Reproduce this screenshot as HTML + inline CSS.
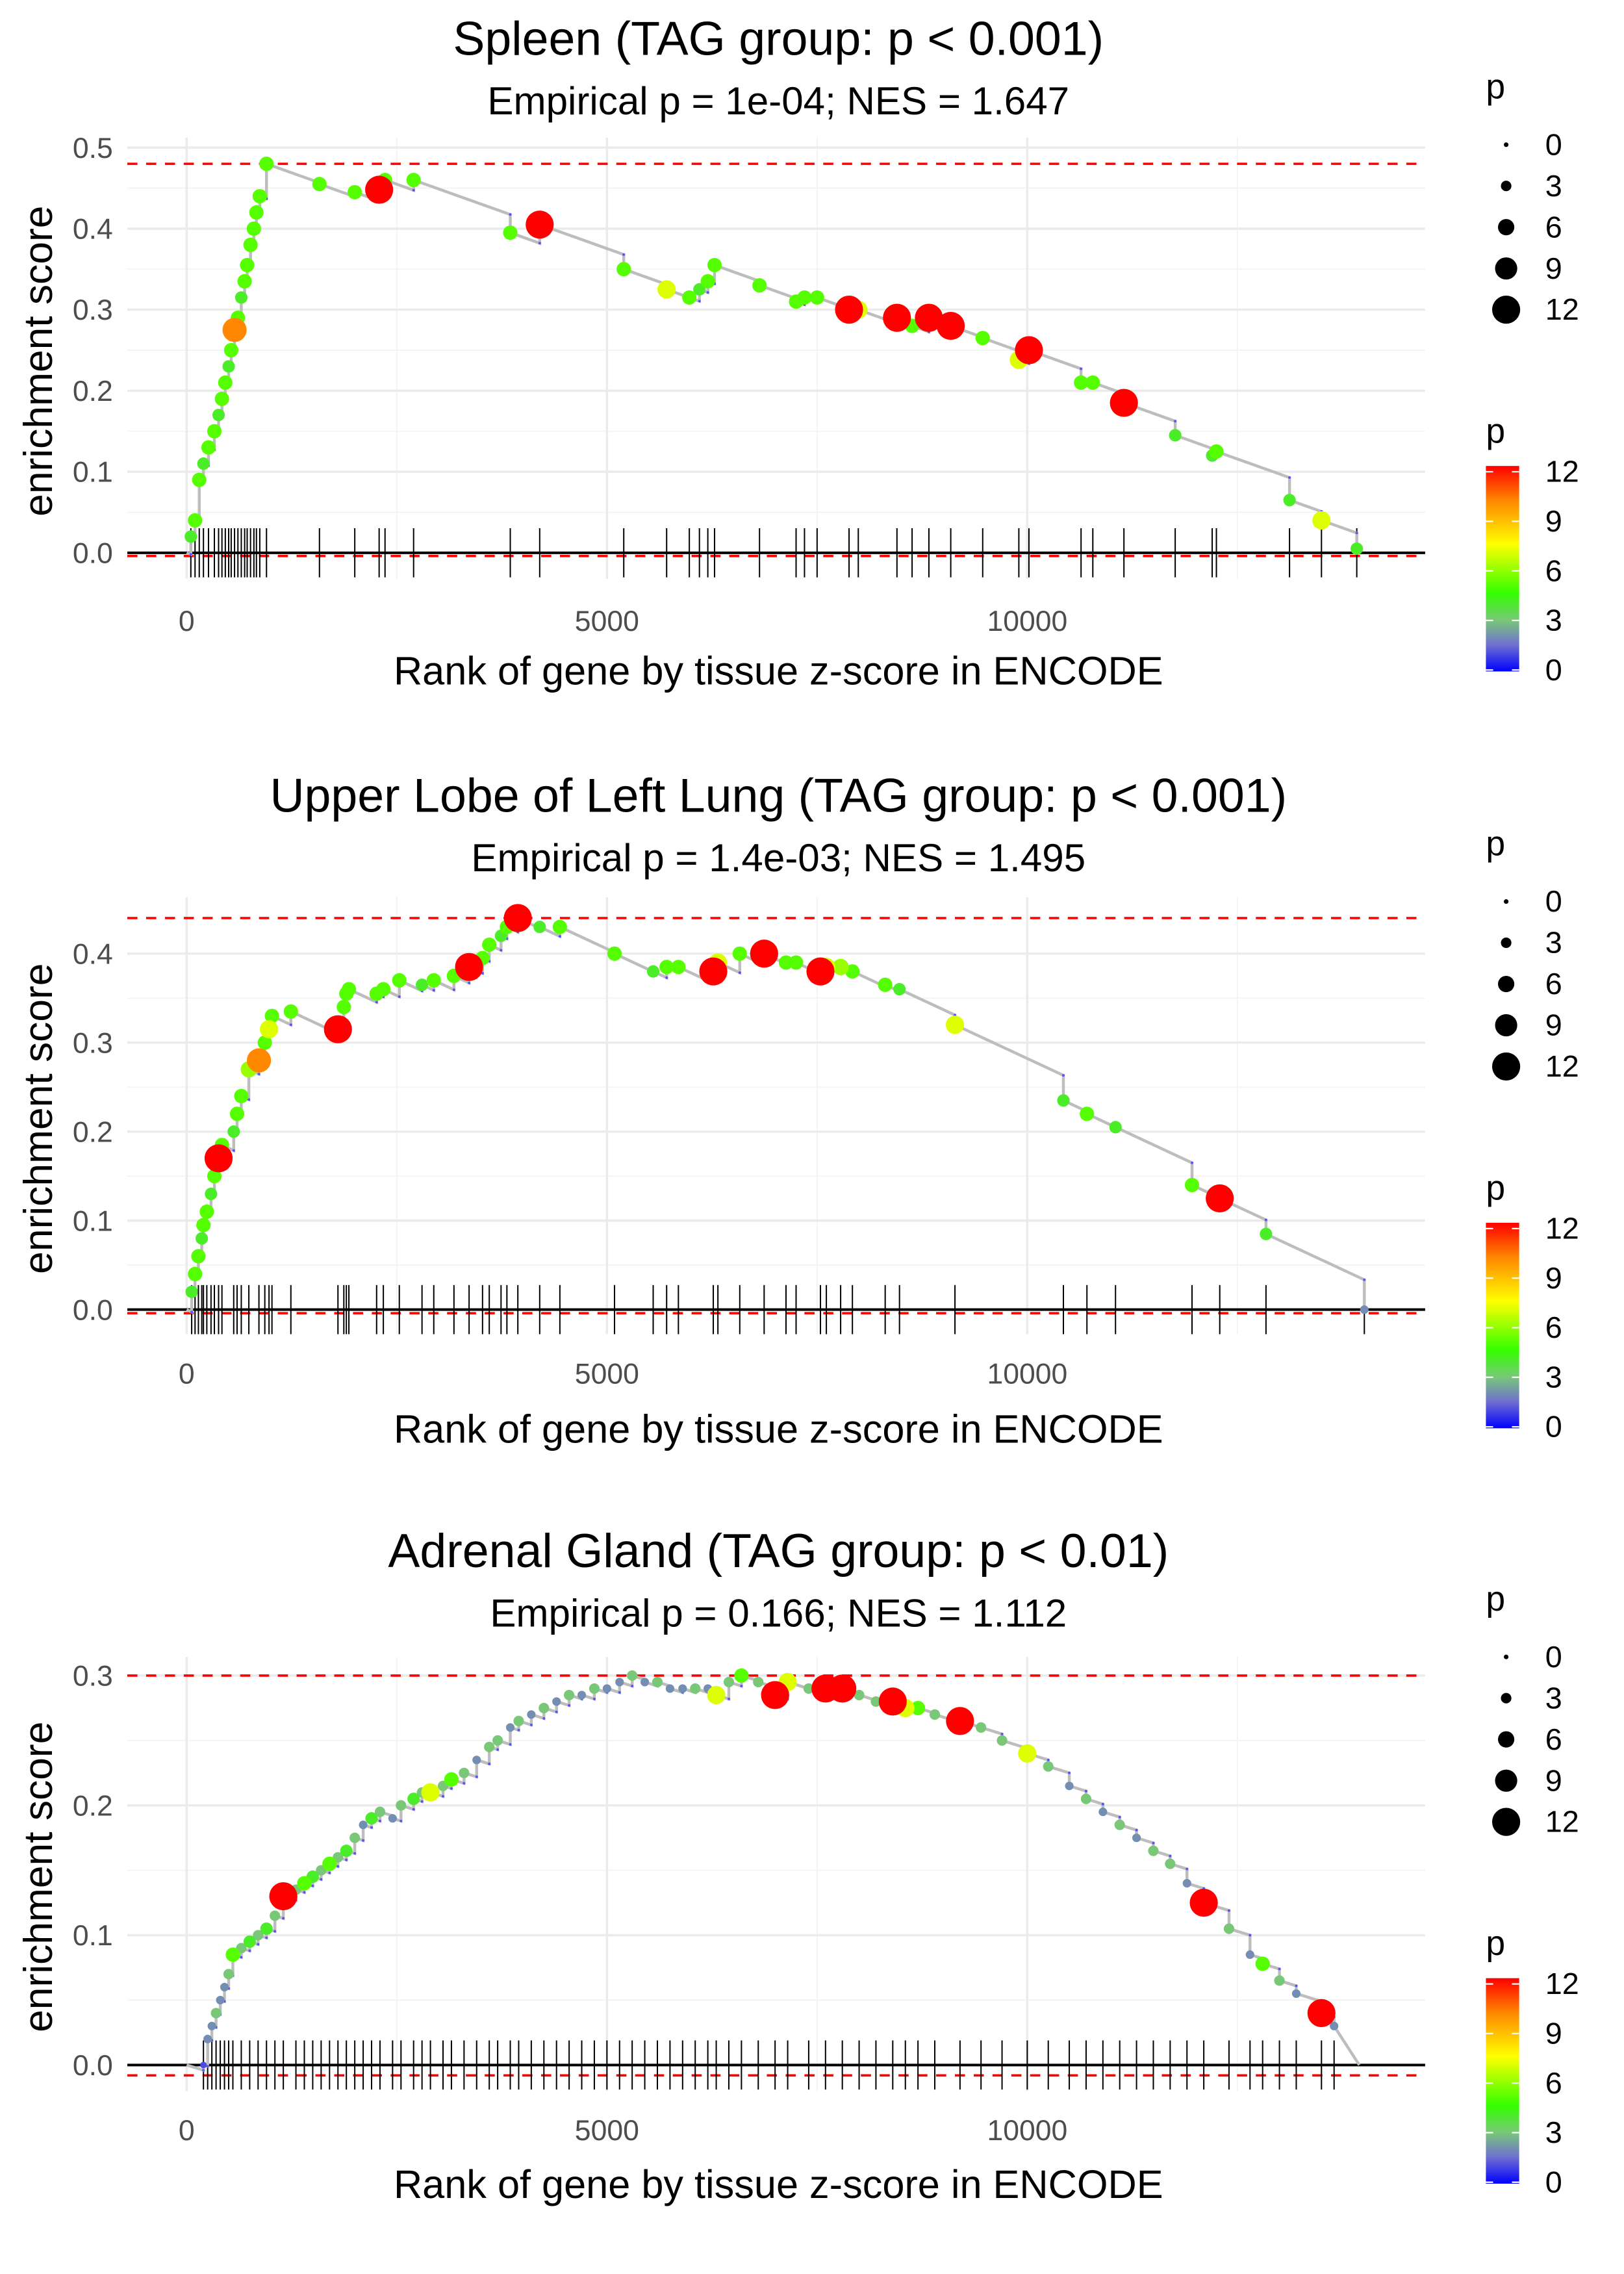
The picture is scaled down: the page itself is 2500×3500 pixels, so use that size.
<!DOCTYPE html>
<html><head><meta charset="utf-8"><style>
html,body{margin:0;padding:0;background:#fff}
svg{display:block;font-family:"Liberation Sans","DejaVu Sans",sans-serif}
</style></head><body>
<svg id="chart" width="2500" height="3500" viewBox="0 0 1100 1540" xmlns="http://www.w3.org/2000/svg">
<defs>
<linearGradient id="pgrad" x1="0" y1="1" x2="0" y2="0">
<stop offset="0" stop-color="#0000ff"/><stop offset="0.13" stop-color="#7070d0"/><stop offset="0.25" stop-color="#78c878"/><stop offset="0.38" stop-color="#33ff00"/><stop offset="0.62" stop-color="#ffff00"/><stop offset="0.83" stop-color="#ff8800"/><stop offset="1" stop-color="#ff0000"/>
</linearGradient>
</defs>
<g id="root" transform="scale(0.98)"></g>
</svg>
<script>
// Panel 1: Spleen
const ranks1=[50,100,150,200,260,330,380,420,460,500,530,570,610,650,690,720,760,800,830,870,950,1580,2000,2290,2360,2700,3850,4200,5200,5710,5980,6100,6200,6280,6815,7250,7350,7500,7880,7990,8450,8630,8830,9090,9470,9900,10020,10640,10780,11150,11760,12200,12250,13120,13500,13920];
const es1=[0.02,0.04,0.09,0.11,0.13,0.15,0.17,0.19,0.21,0.23,0.25,0.275,0.29,0.315,0.335,0.355,0.38,0.40,0.42,0.44,0.48,0.455,0.445,0.448,0.46,0.46,0.395,0.405,0.35,0.325,0.315,0.325,0.335,0.355,0.33,0.31,0.315,0.315,0.30,0.30,0.29,0.28,0.29,0.28,0.265,0.238,0.25,0.21,0.21,0.185,0.145,0.12,0.125,0.065,0.04,0.005];
const p1=[4,5,5,4,5,5,4,5,5,4,5,10,5,4,5,5,5,5,5,5,5,5,5,12,5,5,5,12,5,7,5,4,5,5,5,5,5,5,12,7,12,5,12,12,5,7,12,5,5,12,4,4,5,4,7,4];
// Panel 2: Upper Lobe of Left Lung
const ranks2=[60,100,140,180,200,240,290,330,380,420,560,600,650,740,860,930,980,1015,1240,1800,1870,1900,1930,2260,2340,2530,2800,2940,3180,3360,3520,3600,3740,3810,3940,4200,4440,5090,5550,5710,5850,6265,6320,6580,6870,7130,7250,7540,7610,7780,7920,8310,8480,9140,10430,10710,11050,11960,12290,12840,14010];
const es2=[0.02,0.04,0.06,0.08,0.095,0.11,0.13,0.15,0.17,0.185,0.20,0.22,0.24,0.27,0.28,0.30,0.315,0.33,0.335,0.315,0.34,0.355,0.36,0.355,0.36,0.37,0.365,0.37,0.375,0.385,0.395,0.41,0.42,0.43,0.44,0.43,0.43,0.40,0.38,0.385,0.385,0.38,0.39,0.40,0.40,0.39,0.39,0.38,0.385,0.385,0.38,0.365,0.36,0.32,0.235,0.22,0.205,0.14,0.125,0.085,0.0];
const p2=[4,5,5,4,5,5,4,5,12,5,4,5,5,6,10,5,7,5,5,12,5,5,5,5,5,5,4,5,5,12,5,5,4,5,12,4,5,5,4,5,5,12,7,5,12,5,5,12,7,6,5,5,4,7,4,5,4,5,12,4,2];
// Panel 3: Adrenal Gland
const ranks3=[200,250,300,350,400,450,500,550,650,750,850,950,1050,1150,1300,1400,1500,1600,1700,1800,1900,2000,2100,2200,2300,2450,2550,2700,2800,2900,3050,3150,3300,3450,3600,3700,3850,3950,4100,4250,4400,4550,4700,4850,5000,5150,5300,5450,5600,5750,5900,6050,6200,6300,6450,6600,6800,7000,7150,7400,7600,7800,8000,8200,8400,8550,8700,8900,9200,9450,9700,10000,10250,10500,10700,10900,11100,11300,11500,11700,11900,12100,12400,12650,12800,13000,13200,13500,13650];
const es3=[0.0,0.02,0.03,0.04,0.05,0.06,0.07,0.085,0.09,0.095,0.10,0.105,0.115,0.13,0.135,0.14,0.145,0.15,0.155,0.16,0.165,0.175,0.185,0.19,0.195,0.19,0.20,0.205,0.21,0.21,0.215,0.22,0.225,0.235,0.245,0.25,0.26,0.265,0.27,0.275,0.28,0.285,0.285,0.29,0.29,0.295,0.30,0.295,0.295,0.29,0.29,0.29,0.29,0.285,0.295,0.30,0.295,0.285,0.295,0.29,0.29,0.29,0.285,0.28,0.28,0.275,0.275,0.27,0.265,0.26,0.25,0.24,0.23,0.215,0.205,0.195,0.185,0.175,0.165,0.155,0.14,0.125,0.105,0.085,0.078,0.065,0.055,0.04,0.03];
const p3=[1,2,2,3,2,2,3,5,3,4,3,4,3,12,3,5,4,3,5,3,4,3,2,4,3,2,3,4,3,7,3,5,3,2,3,3,2,3,2,3,2,3,2,3,2,2,3,2,3,2,2,3,2,7,3,5,3,12,7,3,12,12,3,3,12,7,5,3,12,3,3,7,3,2,3,2,3,2,3,3,2,12,3,2,5,3,2,12,2];
const xTicks=[0,5000,10000];
const yTicks1=[0,0.1,0.2,0.3,0.4,0.5], yTicks2=[0,0.1,0.2,0.3,0.4], yTicks3=[0,0.1,0.2,0.3];
const legendP=[0,3,6,9,12];
const titles=["Spleen (TAG group: p < 0.001)","Upper Lobe of Left Lung (TAG group: p < 0.001)","Adrenal Gland (TAG group: p < 0.01)"];
const subtitles=["Empirical p = 1e-04; NES = 1.647","Empirical p = 1.4e-03; NES = 1.495","Empirical p = 0.166; NES = 1.112"];

const NS="http://www.w3.org/2000/svg";
const svg=document.getElementById('root');
function mk(tag,attrs,parent,text){const e=document.createElementNS(NS,tag);for(const k in attrs)e.setAttribute(k,attrs[k]);if(text!==undefined)e.textContent=text;(parent||svg).appendChild(e);return e;}
function pcol(p){const st=[[0,[0,0,255]],[1.5,[112,112,208]],[3,[120,200,120]],[4.5,[51,255,0]],[7.5,[255,255,0]],[10,[255,136,0]],[12,[255,0,0]]];
 p=Math.max(0,Math.min(12,p));for(let i=1;i<st.length;i++){if(p<=st[i][0]){const a=st[i-1],b=st[i];const t=(p-a[0])/(b[0]-a[0]);const c=a[1].map((v,j)=>Math.round(v+(b[1][j]-v)*t));return `rgb(${c})`;}}return 'red';}
function prad(p){return 1.6+8.1*(p/12);}

const panels=[
 {r:ranks1,e:es1,p:p1,yt:yTicks1,y0:382,ypu:560,top:95,bot:400,ty:27,sy:70,xl:463,tk:435,slope:3.7e-5,end:13950,minE:-0.004,lg:0},
 {r:ranks2,e:es2,p:p2,yt:yTicks2,y0:905,ypu:615,top:620,bot:922,ty:550,sy:593,xl:987,tk:955,slope:4.4e-5,end:14010,minE:-0.004,lg:523},
 {r:ranks3,e:es3,p:p3,yt:yTicks3,y0:1427,ypu:897,top:1145,bot:1445,ty:1072,sy:1115,xl:1509,tk:1478,slope:2e-5,end:13950,minE:-0.008,lg:1045}
];
const X0=88,X1=985;
const xs=v=>129+v*0.0581;

panels.forEach((P,i)=>{
 const g=mk('g',{});
 
 
 const ys=v=>P.y0-v*P.ypu;
 [2500,7500,12500].forEach(v=>{const l=mk('line',{x1:xs(v),x2:xs(v),y1:P.top,y2:P.bot,stroke:'#f3f3f3','stroke-width':0.8},g);});
 for(let k=0;k<P.yt.length-1;k++){const v=(P.yt[k]+P.yt[k+1])/2;const l=mk('line',{x1:X0,x2:X1,y1:ys(v),y2:ys(v),stroke:'#f3f3f3','stroke-width':0.8},g);}
 xTicks.forEach(v=>{const l=mk('line',{x1:xs(v),x2:xs(v),y1:P.top,y2:P.bot,stroke:'#ebebeb','stroke-width':1.6},g);
  const t=mk('text',{x:xs(v),y:P.tk+1,'text-anchor':'middle','font-size':20,fill:'#4d4d4d'},g,String(v));});
 P.yt.forEach(v=>{const l=mk('line',{x1:X0,x2:X1,y1:ys(v),y2:ys(v),stroke:'#ebebeb','stroke-width':1.6},g);
  const t=mk('text',{x:78,y:ys(v)+7,'text-anchor':'end','font-size':20,fill:'#4d4d4d'},g,v.toFixed(1));});
 const mx=Math.max(...P.e);
 const dmx=mk('line',{x1:X0,x2:X1,y1:ys(mx),y2:ys(mx),stroke:'#ff0000','stroke-width':1.6,'stroke-dasharray':'7,6'},g);
 
 const dmn=mk('line',{x1:X0,x2:X1,y1:ys(P.minE),y2:ys(P.minE),stroke:'#ff0000','stroke-width':1.6,'stroke-dasharray':'7,6'},g);
 
 P.r.forEach(r=>{const l=mk('line',{x1:xs(r),x2:xs(r),y1:P.y0-17,y2:P.y0+17,stroke:'#000','stroke-width':0.9},g);});
 const zl=mk('line',{x1:X0,x2:X1,y1:P.y0,y2:P.y0,stroke:'#000','stroke-width':1.8},g);
 
 let pts=[[xs(0),ys(0)]],pr=0,pe=0;
 P.r.forEach((r,k)=>{const pre=pe-P.slope*(r-pr);pts.push([xs(r),ys(pre)]);pts.push([xs(r),ys(P.e[k])]);pr=r;pe=P.e[k];});
 pts.push([xs(P.end),ys(0)]);
 const pl=mk('polyline',{points:pts.map(a=>a.join(',')).join(' '),fill:'none',stroke:'#bdbdbd','stroke-width':2},g);
 
 pr=0;pe=0;
 P.r.forEach((r,k)=>{const pre=pe-P.slope*(r-pr);const c=mk('circle',{cx:xs(r),cy:ys(pre),r:0.9,fill:'#5555ff'},g);pr=r;pe=P.e[k];});
 const idx=P.r.map((_,k)=>k).sort((a,b)=>P.p[a]-P.p[b]);
 idx.forEach(k=>{const c=mk('circle',{cx:xs(P.r[k]),cy:ys(P.e[k]),r:prad(P.p[k]),fill:pcol(P.p[k])},g);});
 const t1=mk('text',{x:538,y:P.ty+11,'text-anchor':'middle','font-size':33,fill:'#000'},g,titles[i]);
 const t2=mk('text',{x:538,y:P.sy+9,'text-anchor':'middle','font-size':27,fill:'#000'},g,subtitles[i]);
 const xl=mk('text',{x:538,y:P.xl+10,'text-anchor':'middle','font-size':27.5,fill:'#000'},g,'Rank of gene by tissue z-score in ENCODE');
 const cy=(P.top+P.bot)/2+2;
 const yl=mk('text',{x:0,y:0,'text-anchor':'middle','font-size':28,fill:'#000',transform:`translate(36,${cy}) rotate(-90)`},g,'enrichment score');
 const L=P.lg;
 const lt=mk('text',{x:1027,y:L+68,'font-size':24,fill:'#000'},g,'p');
 legendP.forEach((v,k)=>{const y=L+100+k*28.5;const c=mk('circle',{cx:1041,cy:y,r:prad(v),fill:'#000'},g);
  const t=mk('text',{x:1068,y:y+7,'font-size':21,fill:'#000'},g,String(v));});
 const ct=mk('text',{x:1027,y:L+306,'font-size':24,fill:'#000'},g,'p');
 const bar=mk('rect',{x:1027,y:L+322,width:23,height:142,fill:'url(#pgrad)'},g);
 legendP.forEach(v=>{const y=L+463-v/12*137;
  [1027,1045].forEach(x=>{const m=mk('line',{x1:x,x2:x+5,y1:y,y2:y,stroke:'#fff','stroke-width':1},g);});
  const t=mk('text',{x:1068,y:y+7,'font-size':21,fill:'#000'},g,String(v));});
});
</script>
</body></html>
